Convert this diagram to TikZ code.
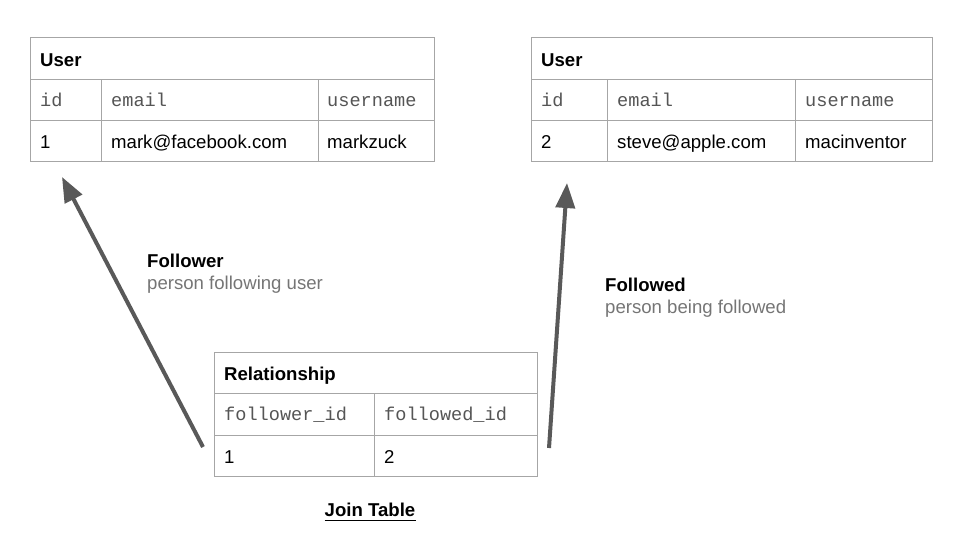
\documentclass[tikz,border=0pt]{standalone}
\usepackage{fontspec}
\setmainfont{Liberation Sans}
\setmonofont{Liberation Mono}
\usetikzlibrary{arrows.meta}
\definecolor{gridc}{HTML}{A6A6A6}
\definecolor{arrowc}{HTML}{595959}
\definecolor{monoc}{HTML}{555555}
\definecolor{subc}{HTML}{757575}
\tikzset{
  grid/.style={draw=gridc, line width=1pt},
  cell/.style={anchor=base west, inner sep=0pt, font=\fontsize{18.6}{22}\selectfont, text=black},
  hcell/.style={cell, font=\fontsize{18.6}{22}\selectfont\bfseries},
  mcell/.style={cell, font=\fontsize{18.6}{22}\selectfont\ttfamily, text=monoc},
  lbl/.style={anchor=base west, inner sep=0pt, font=\fontsize{18.6}{22}\selectfont\bfseries, text=black},
  sublbl/.style={anchor=base west, inner sep=0pt, font=\fontsize{18.6}{22}\selectfont, text=subc},
  bigarrow/.style={draw=arrowc, line width=4pt, -{Triangle[length=25pt,width=19pt]}}
}
\begin{document}
\begin{tikzpicture}[x=1pt,y=-1pt]
\useasboundingbox (0,0) rectangle (960,540);
% Left User table
\draw[grid] (30,38) rectangle (434,162);
\draw[grid] (30,80) -- (434,80) (30,121) -- (434,121);
\draw[grid] (101,80) -- (101,162) (318,80) -- (318,162);
\node[hcell] (u1h) at (40,66.5) {User};
\node[mcell] (u1c1) at (40,107) {id};
\node[mcell] (u1c2) at (111,107) {email};
\node[mcell] (u1c3) at (327,107) {username};
\node[cell] (u1d1) at (40,149) {1};
\node[cell] (u1d2) at (111,149) {mark@facebook.com};
\node[cell] (u1d3) at (327,149) {markzuck};
% Right User table
\draw[grid] (531,38) rectangle (932,162);
\draw[grid] (531,80) -- (932,80) (531,121) -- (932,121);
\draw[grid] (607,80) -- (607,162) (795,80) -- (795,162);
\node[hcell] (u2h) at (541,66.5) {User};
\node[mcell] (u2c1) at (541,107) {id};
\node[mcell] (u2c2) at (617,107) {email};
\node[mcell] (u2c3) at (805,107) {username};
\node[cell] (u2d1) at (541,149) {2};
\node[cell] (u2d2) at (617,149) {steve@apple.com};
\node[cell] (u2d3) at (805,149) {macinventor};
% Relationship table
\draw[grid] (214,352) rectangle (537,476);
\draw[grid] (214,393) -- (537,393) (214,435) -- (537,435);
\draw[grid] (374,393) -- (374,476);
\node[hcell] (rh) at (224,380.5) {Relationship};
\node[mcell] (rc1) at (224,420) {follower\_id};
\node[mcell] (rc2) at (384,420) {followed\_id};
\node[cell] (rd1) at (224,463) {1};
\node[cell] (rd2) at (384,463) {2};
% Join table label
\node[anchor=base, inner sep=0pt, font=\fontsize{18.6}{22}\selectfont\bfseries] (jt) at (370,516.5) {Join Table};
\draw[line width=1.4pt] ([yshift=-3.8pt]jt.base west) -- ([yshift=-3.8pt]jt.base east);
% Labels
\node[lbl] (flr) at (147,267.5) {Follower};
\node[sublbl] (flrs) at (147,289) {person following user};
\node[lbl] (fld) at (605,291.5) {Followed};
\node[sublbl] (flds) at (605,313) {person being followed};
% Arrows
\coordinate (a1s) at (203,447);
\coordinate (a1e) at (62,177);
\coordinate (a2s) at (549,448);
\coordinate (a2e) at (567,183);
\draw[bigarrow] (a1s) -- (a1e);
\draw[bigarrow] (a2s) -- (a2e);
\end{tikzpicture}
\end{document}
